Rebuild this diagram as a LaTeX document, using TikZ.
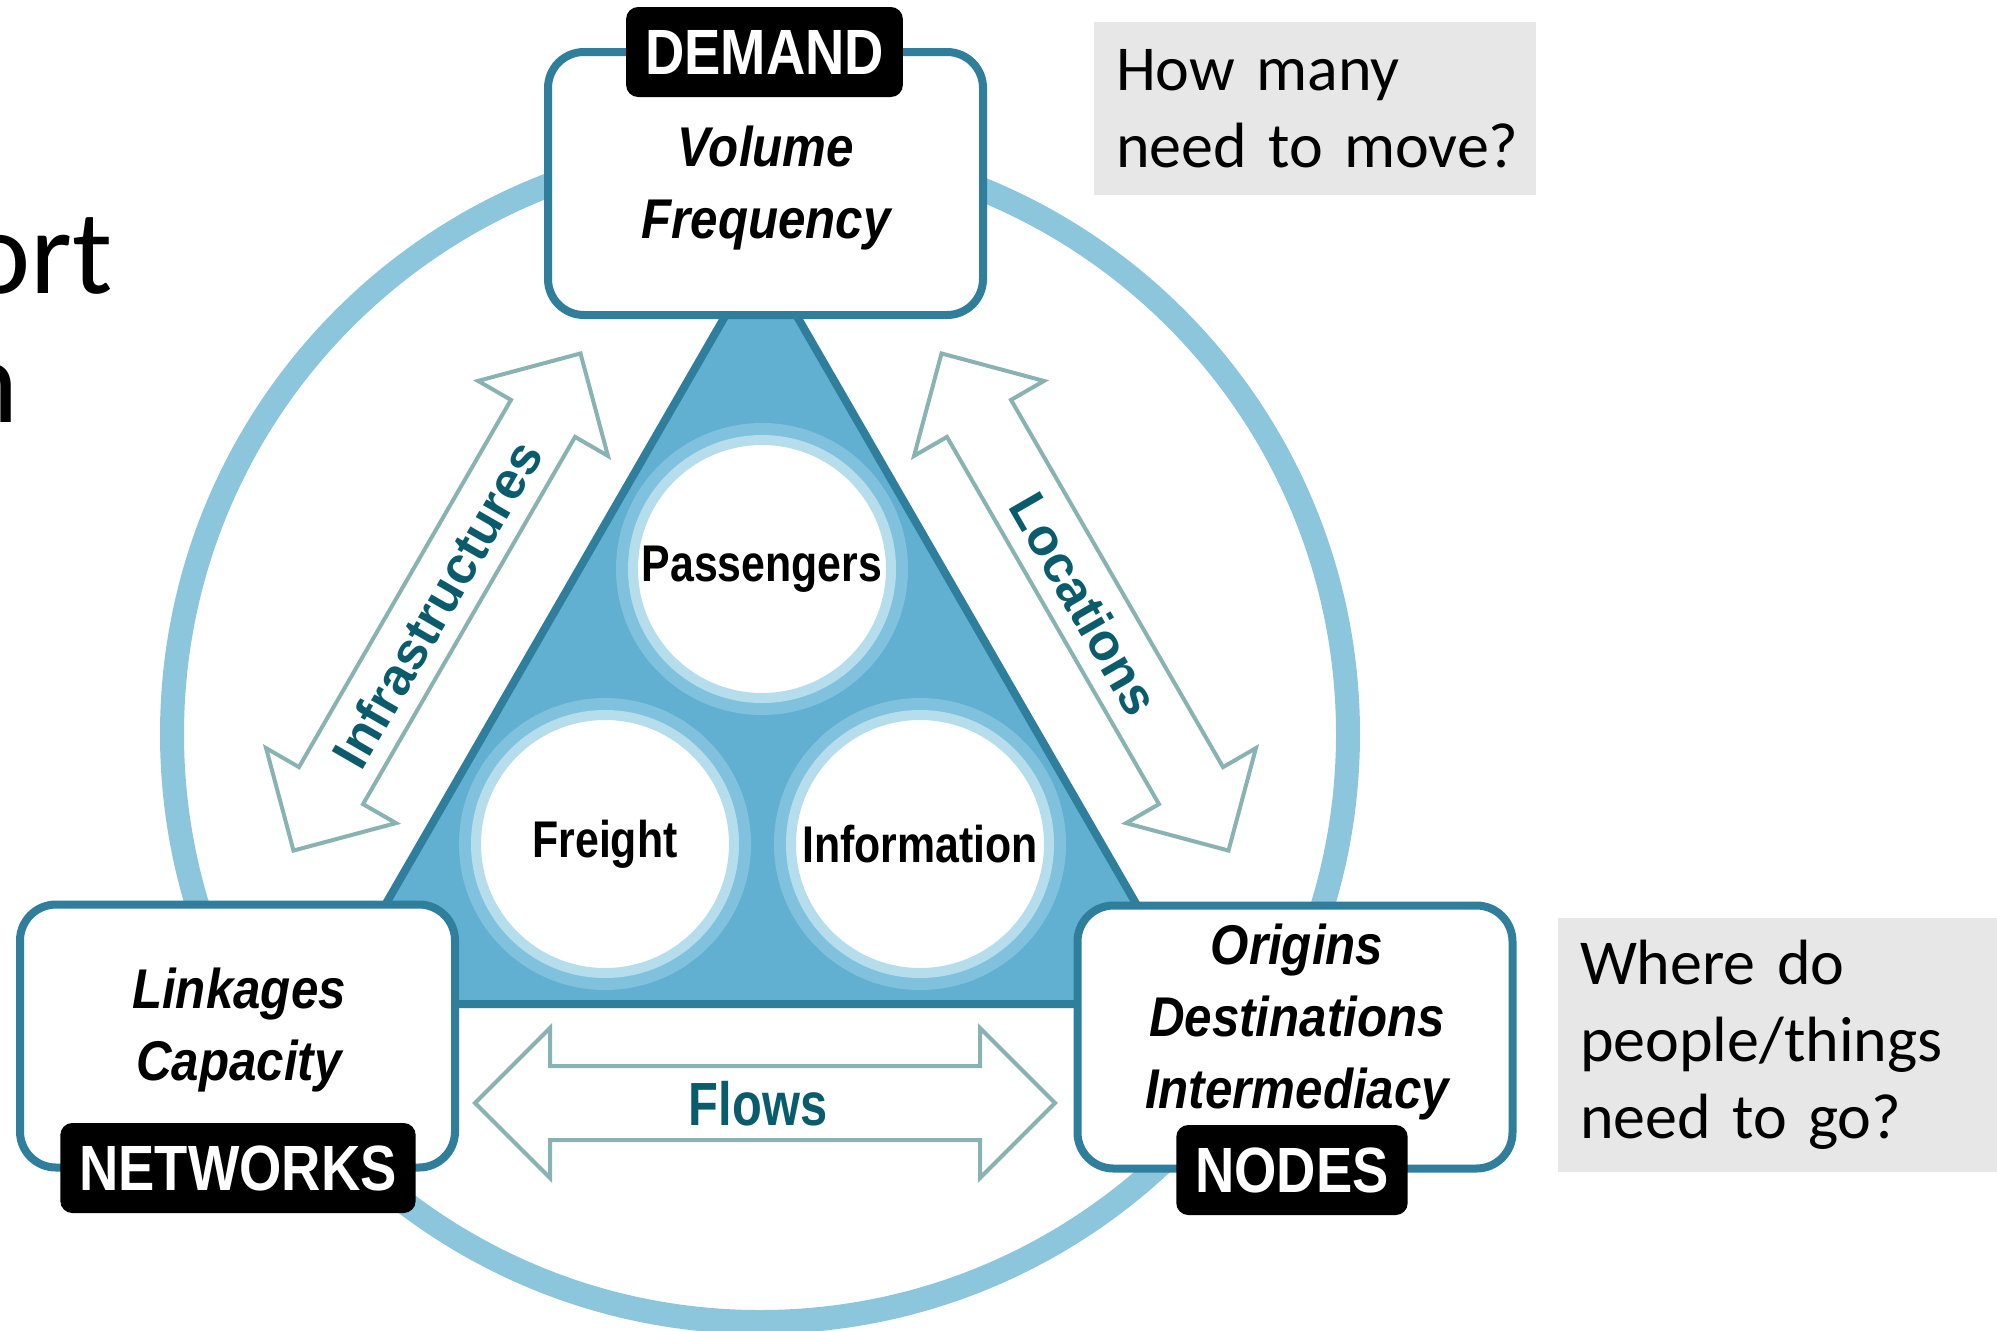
\documentclass[tikz,border=0pt]{standalone}
\usepackage{fontspec}
\setmainfont{Liberation Sans}
\newfontfamily\tagfont[FakeStretch=0.85]{Liberation Sans}
\newfontfamily\modefont[FakeStretch=0.83]{Liberation Sans}
\newfontfamily\itemfont[FakeStretch=0.88]{Liberation Sans}
\newfontfamily\flowfont[FakeStretch=0.8]{Liberation Sans}
\newfontfamily\notefont[WordSpace=0.75]{Carlito}
\usepackage{tikz}
\definecolor{ringblue}{RGB}{140,198,221}
\definecolor{edgeblue}{RGB}{46,126,156}
\definecolor{triblue}{RGB}{97,176,209}
\definecolor{haloin}{RGB}{182,221,236}
\definecolor{haloout}{RGB}{128,194,221}
\definecolor{arrowgrey}{RGB}{137,178,178}
\definecolor{labelteal}{RGB}{10,92,108}
\definecolor{notegrey}{RGB}{231,231,231}
\tikzset{
	hubbox/.style={rectangle,rounded corners=18pt,draw=edgeblue,line width=4pt,fill=white,minimum width=217.5pt,minimum height=131.5pt,inner sep=0pt},
	hubtag/.style={rectangle,rounded corners=6pt,fill=black,text=white,minimum height=45pt,inner xsep=9.5pt,font=\tagfont\bfseries\fontsize{32}{38}\selectfont},
	hubitems/.style={align=center,font=\itemfont\bfseries\itshape\fontsize{28}{36}\selectfont},
	modecircle/.style={circle,fill=white,draw=haloin,line width=5pt,minimum size=129pt,inner sep=0pt,preaction={draw=haloout,line width=17pt},font=\modefont\bfseries\fontsize{25.8}{30}\selectfont},
	linklabel/.style={text=labelteal,inner sep=0pt,font=\bfseries\fontsize{26}{30}\selectfont},
	notebox/.style={rectangle,fill=notegrey,align=left,text width=199pt,inner xsep=11pt,font=\notefont\fontsize{32}{38.5}\selectfont},
	arrowline/.style={draw=arrowgrey,line width=2pt,fill=white,line join=miter},
	pics/twoway/.style={code={
		\draw[arrowline] (-#1,0) -- (-#1+75,75) -- (-#1+75,37) -- (#1-75,37) -- (#1-75,75) -- (#1,0)
			-- (#1-75,-75) -- (#1-75,-37) -- (-#1+75,-37) -- (-#1+75,-75) -- cycle;
	}}
}

\begin{document}
\begin{tikzpicture}[x=0.5pt,y=-0.5pt]
	\useasboundingbox (0,0) rectangle (1997,1330);

	% outer ring and triangle
	\draw[ringblue,line width=12pt] (760,734) circle[radius=588];
	\draw[fill=triblue,draw=edgeblue,line width=4pt] (761,254) -- (1194,1004) -- (328,1004) -- cycle;

	\node[modecircle] (passengers) at (762,569) {Passengers};
	\node[modecircle] (freight) at (605,844) {Freight};
	\node[modecircle] (information) at (920,844) {Information};

	% corner boxes
	\node[hubbox] (demand) at (765.5,183.5) {};
	\node[hubbox] (networks) at (237.5,1036) {};
	\node[hubbox] (nodes) at (1295,1037) {};

	\node[hubitems] (demanditems) at (766,188) {Volume\\Frequency};
	\node[hubitems] (networksitems) at (239,1030) {Linkages\\Capacity};
	\node[hubitems] (nodesitems) at (1297,1022) {Origins\\Destinations\\Intermediacy};

	\node[hubtag] (demandtag) at (764.5,52) {DEMAND};
	\node[hubtag] (networkstag) at (238,1168) {NETWORKS};
	\node[hubtag] (nodestag) at (1292,1170) {NODES};

	% two-way arrows
	\pic[rotate=60] at (437,602) {twoway=287};
	\pic[rotate=-60] at (1085,602) {twoway=287};
	\pic at (765,1103) {twoway=290};

	\node[linklabel,rotate=60] (infrastructures) at (437,604) {Infrastructures};
	\node[linklabel,rotate=-60] (locations) at (1085,604) {Locations};
	\node[linklabel,font=\flowfont\bfseries\fontsize{30.5}{34}\selectfont] (flows) at (758,1104) {Flows};

	% questions
	\node[notebox,minimum width=221pt,minimum height=86.5pt] (howmany) at (1315,108.5) {\mbox{How many}\\\mbox{need to move?}};
	\node[notebox,minimum width=221pt,minimum height=127pt] (wheredo) at (1779,1045) {\mbox{Where do}\\\mbox{people/things}\\\mbox{need to go?}};

	\node[anchor=base east,inner sep=0pt,font=\notefont\fontsize{60}{70}\selectfont] (titleone) at (113,293) {ort};
	\node[anchor=base east,inner sep=0pt,font=\notefont\fontsize{60}{70}\selectfont] (titletwo) at (19,422) {n};
\end{tikzpicture}
\end{document}
